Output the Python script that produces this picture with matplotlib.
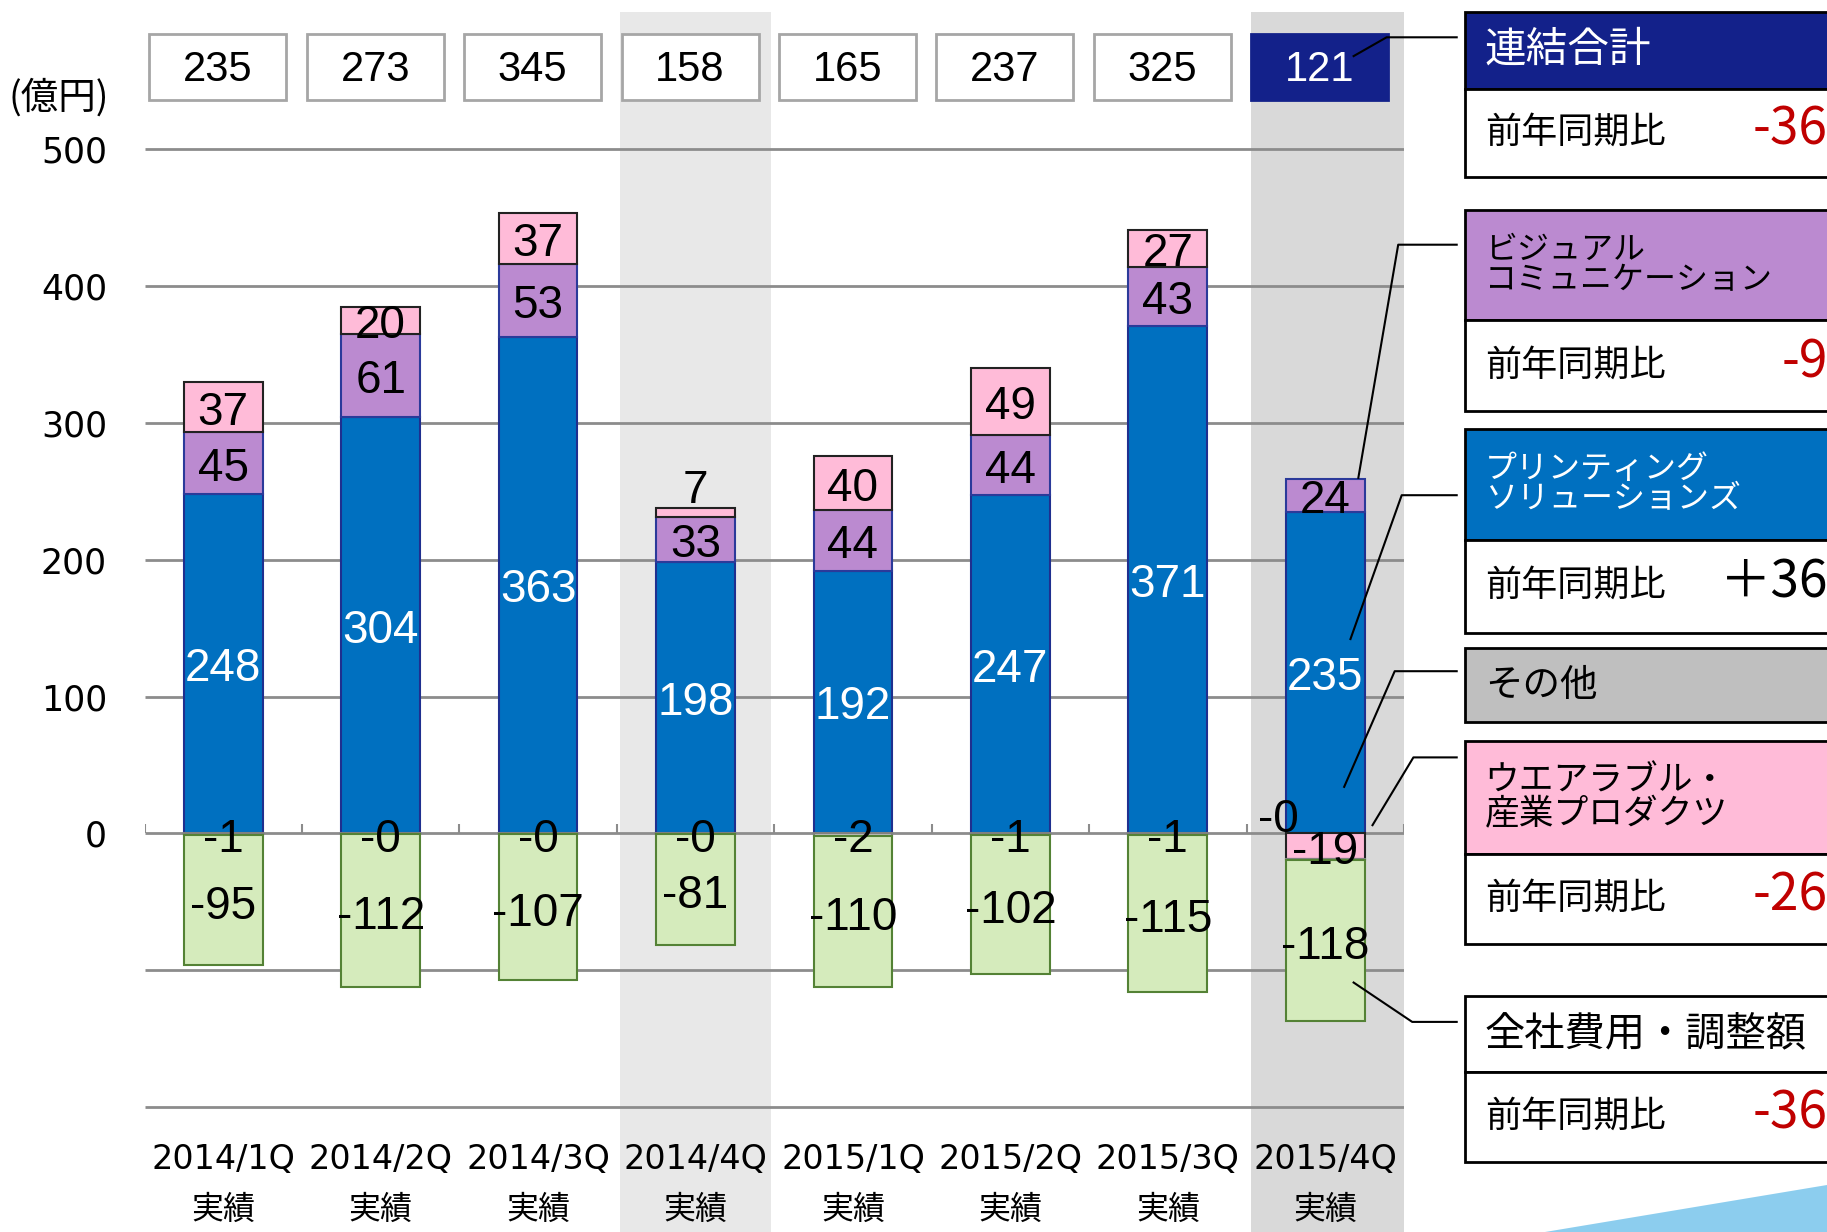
import numpy as np
import matplotlib.pyplot as plt
from matplotlib.patches import Rectangle, Polygon

periods = ['2014/1Q', '2014/2Q', '2014/3Q', '2014/4Q',
           '2015/1Q', '2015/2Q', '2015/3Q', '2015/4Q']
printing = [248, 304, 363, 198, 192, 247, 371, 235]
visual = [45, 61, 53, 33, 44, 44, 43, 24]
wearable = [37, 20, 37, 7, 40, 49, 27, -19]
other = [-1, -0.3, -0.3, -0.3, -2, -1, -1, -0.3]
corporate = [-95, -112, -107, -81, -110, -102, -115, -118]
totals = [235, 273, 345, 158, 165, 237, 325, 121]

panel_titles = ['連結合計', 'ビジュアル\nコミュニケーション', 'プリンティング\nソリューションズ',
                'その他', 'ウエアラブル・\n産業プロダクツ', '全社費用・調整額']
panel_yoy = ['-36', '-9', '＋36', None, '-26', '-36']

JP = ['Noto Sans CJK JP', 'DejaVu Sans']
NUM = ['Liberation Sans', 'DejaVu Sans']
NARROW = ['Liberation Sans Narrow', 'Liberation Sans', 'DejaVu Sans']

c_print = '#0070C0'
c_vis = '#BB8AD0'
c_wear = '#FFBBD8'
c_other = '#BFBFBF'
c_corp = '#D5EBBC'
navy = '#13218A'
red = '#C00000'

W, H = 1827, 1232
fig = plt.figure(figsize=(W / 100, H / 100), dpi=100)
ax = fig.add_axes([144.5 / W, 0, 1259.5 / W, 1])
ax.set_xlim(-0.5, 7.5)
ax.set_ylim(-291.3, 609)
for s in ax.spines.values():
    s.set_visible(False)
ax.set_xticks([])
ax.set_yticks(range(0, 600, 100))
ax.tick_params(axis='y', length=0, pad=27, labelsize=25)
x = np.arange(len(periods))

# highlighted quarters
ax.axvspan(2.52, 3.48, ymin=0, ymax=(600 + 291.3) / 900.3, color='#E8E8E8', zorder=0, lw=0)
ax.axvspan(6.53, 7.5, ymin=0, ymax=(600 + 291.3) / 900.3, color='#D9D9D9', zorder=0, lw=0)

ax.hlines(range(-200, 600, 100), -0.5, 7.5, color='#8C8C8C', lw=2, zorder=1)
ax.vlines(np.arange(-0.5, 8), 0, 7, color='#8C8C8C', lw=1.5, zorder=1)

bw = 0.5
pos = np.zeros(len(x))
neg = np.zeros(len(x))
series = [(printing, c_print, '#1F2F8F', 'white'),
          (visual, c_vis, '#2B3A9A', 'black'),
          (wearable, c_wear, '#222222', 'black'),
          (other, c_other, '#808080', 'black'),
          (corporate, c_corp, '#548235', 'black')]
for k, (vals, col, ec, tc) in enumerate(series):
    v = np.array(vals, dtype=float)
    bottom = np.where(v >= 0, pos, neg)
    ax.bar(x, v, bw, bottom=bottom, color=col, edgecolor=ec, lw=1.5, zorder=2)
    for i in range(len(x)):
        yc = bottom[i] + v[i] / 2 - 4
        xc = x[i]
        if k == 2 and 0 < v[i] < 15:
            yc = bottom[i] + v[i] + 12
        if k == 3:
            yc = -5
            if i == 7:
                xc, yc = x[i] - 0.3, 10
        if k == 4:
            yc -= 1
        ax.text(xc, yc, f'{v[i]:.0f}', ha='center', va='center', fontsize=33,
                color=tc, family=NUM, zorder=4)
    pos = np.where(v >= 0, pos + v, pos)
    neg = np.where(v < 0, neg + v, neg)

# totals boxes
for i, t in enumerate(totals):
    last = i == len(totals) - 1
    ax.add_patch(Rectangle((x[i] - 0.47, 536), 0.87, 48, facecolor=navy if last else 'white',
                           edgecolor=navy if last else '#A6A6A6', lw=2, zorder=3))
    ax.text(x[i] - 0.035, 558, str(t), ha='center', va='center', fontsize=30,
            color='white' if last else 'black', family=NARROW, zorder=4)

for i, p in enumerate(periods):
    ax.text(x[i], -238.5, p, ha='center', va='center', fontsize=24)
    ax.text(x[i], -275, '実績', ha='center', va='center', fontsize=23, family=JP)

# overlay in pixel coordinates for side panels
ov = fig.add_axes([0, 0, 1, 1], zorder=5)
ov.set_xlim(0, W)
ov.set_ylim(H, 0)
ov.axis('off')
ov.patch.set_alpha(0)

ov.text(8, 98, '(億円)', ha='left', va='center', fontsize=27, family=JP)

panels = [(11.7, 88.6, 177, navy, 'white'),
          (209.7, 320.4, 411, c_vis, 'black'),
          (428.8, 539.5, 632.7, c_print, 'white'),
          (647.9, None, 722.4, c_other, 'black'),
          (741, 854, 943.8, c_wear, 'black'),
          (996.2, 1072, 1161.7, 'white', 'black')]
title_sizes = [30, 23, 23, 27, 25, 29]
px = 1464.7
for (top, mid, bot, hc, tc), title, yoy, fs in zip(panels, panel_titles, panel_yoy, title_sizes):
    hb = mid if mid is not None else bot
    ov.add_patch(Rectangle((px, top), 500, hb - top, facecolor=hc, edgecolor='black', lw=2))
    ov.text(px + 20, (top + hb) / 2, title, ha='left', va='center', fontsize=fs,
            color=tc, family=JP, linespacing=0.95)
    if mid is not None:
        ov.add_patch(Rectangle((px, mid), 500, bot - mid, facecolor='white', edgecolor='black', lw=2))
        ov.text(px + 20, (mid + bot) / 2, '前年同期比', ha='left', va='center', fontsize=26, family=JP)
        ov.text(1828, (mid + bot) / 2 - 3, yoy, ha='right', va='center', fontsize=37,
                color='black' if yoy.startswith('＋') else red, family=JP)

# connector lines from the last quarter to the panels
fig.canvas.draw()
starts = [(7.18, 568), (7.21, 259.8), (7.16, 142), (7.12, 34), (7.30, 6), (7.18, -109)]
elbows = [(1386.6, 37.3), (1398.2, 244.7), (1401.7, 495.2),
          (1394.7, 671.2), (1413.4, 757.4), (1412.2, 1021.9)]
for s, e in zip(starts, elbows):
    p = ov.transData.inverted().transform(ax.transData.transform(s))
    ov.plot([p[0], e[0], px - 8], [p[1], e[1], e[1]], color='black', lw=1.5)

# decorative swoosh bottom right
ov.add_patch(Polygon([(1545, 1232), (1827, 1185), (1827, 1232)], closed=True,
                     facecolor='#8CCDEE', edgecolor='none'))

fig.savefig('out.png', dpi=100)
